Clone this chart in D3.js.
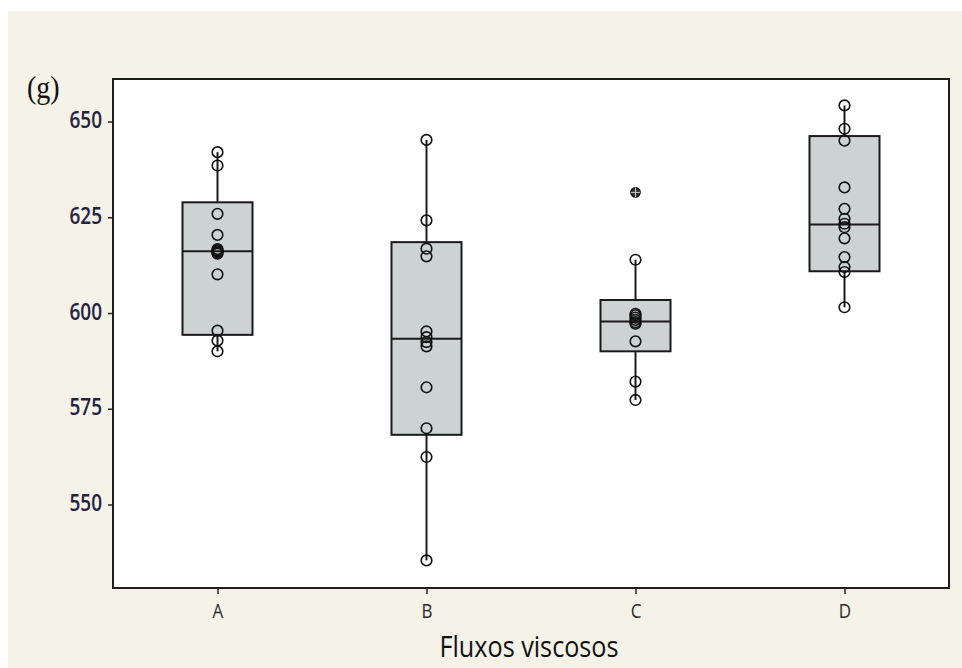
<!DOCTYPE html>
<html>
<head>
<meta charset="utf-8">
<script src="https://cdn.jsdelivr.net/npm/d3@7"></script>
<style>
  html, body { margin: 0; padding: 0; background: #ffffff; }
  svg { display: block; }
</style>
</head>
<body>
<svg id="chart" width="962" height="668"></svg>
<script>
// ---- data ----
const categories = ["A", "B", "C", "D"];
const yTicks = [550, 575, 600, 625, 650];
const q1 = [594.3, 568.2, 590.0, 610.9];
const median = [616.1, 593.3, 597.8, 623.1];
const q3 = [628.9, 618.5, 603.4, 646.2];
const whiskerLow = [590.0, 535.4, 577.3, 601.5];
const whiskerHigh = [642.0, 645.2, 613.9, 654.2];
const pointsA = [642.0, 638.5, 625.9, 620.4, 616.7, 616.4, 616.1, 615.8, 615.5, 610.1, 595.4, 592.8, 590.0];
const pointsB = [645.2, 624.2, 616.8, 614.8, 595.2, 593.7, 592.4, 591.3, 580.6, 569.9, 562.4, 535.4];
const pointsC = [613.9, 599.8, 599.4, 598.8, 598.2, 597.6, 597.2, 592.6, 582.1, 577.3];
const pointsD = [654.2, 648.1, 645.0, 632.8, 627.2, 624.6, 623.3, 622.4, 619.5, 614.6, 612.0, 610.7, 601.5];
const outliersC = [631.5];
const panelLabel = "(g)";
const xTitle = "Fluxos viscosos";

const points = [pointsA, pointsB, pointsC, pointsD];
const outliers = [[], [], outliersC, []];

// ---- layout ----
const svg = d3.select("#chart");
const W = 962, H = 668;
const frame = { left: 113, right: 949, top: 79, bottom: 588 };

svg.append("rect").attr("x", 8).attr("y", 11).attr("width", W - 8).attr("height", H - 11)
  .attr("fill", "#f5f2e8");

const x = d3.scalePoint().domain(categories).range([frame.left, frame.right]).padding(0.5);
const y = d3.scaleLinear().domain([528.2, 661.1]).range([frame.bottom, frame.top]);

svg.append("rect")
  .attr("x", frame.left).attr("y", frame.top)
  .attr("width", frame.right - frame.left).attr("height", frame.bottom - frame.top)
  .attr("fill", "#ffffff");

// axes
const yAxis = svg.append("g").attr("transform", `translate(${frame.left},0)`)
  .call(d3.axisLeft(y).tickValues(yTicks).tickSize(5).tickPadding(6).tickFormat(d3.format("d")));
yAxis.select(".domain").remove();
yAxis.selectAll(".tick line").attr("stroke", "#222").attr("stroke-width", 1.5);
yAxis.selectAll(".tick text")
  .attr("fill", "#23233f")
  .attr("dy", null)
  .attr("transform", "translate(0,6) scale(1,1.2)")
  .style("font-family", "'Open Sans', sans-serif")
  .style("font-size", "19px")
  .style("font-weight", "600");

const xAxis = svg.append("g").attr("transform", `translate(0,${frame.bottom})`)
  .call(d3.axisBottom(x).tickSize(6).tickPadding(8));
xAxis.select(".domain").remove();
xAxis.selectAll(".tick line").attr("stroke", "#222").attr("stroke-width", 1.5);
xAxis.selectAll(".tick text")
  .attr("fill", "#2a2a2a")
  .attr("dy", null)
  .attr("y", null)
  .attr("transform", "translate(0,30) scale(1,1.2)")
  .style("font-family", "'Open Sans', sans-serif")
  .style("font-size", "17px");

const boxW = 70;
const g = svg.append("g");

categories.forEach((c, i) => {
  const cx = x(c);
  // whiskers
  g.append("line").attr("x1", cx).attr("x2", cx)
    .attr("y1", y(q3[i])).attr("y2", y(whiskerHigh[i]))
    .attr("stroke", "#1a1a1a").attr("stroke-width", 2);
  g.append("line").attr("x1", cx).attr("x2", cx)
    .attr("y1", y(q1[i])).attr("y2", y(whiskerLow[i]))
    .attr("stroke", "#1a1a1a").attr("stroke-width", 2);
  // box
  g.append("rect")
    .attr("x", cx - boxW / 2).attr("y", y(q3[i]))
    .attr("width", boxW).attr("height", y(q1[i]) - y(q3[i]))
    .attr("fill", "#cdd3d3").attr("stroke", "#1a1a1a").attr("stroke-width", 2);
  // median
  g.append("line").attr("x1", cx - boxW / 2).attr("x2", cx + boxW / 2)
    .attr("y1", y(median[i])).attr("y2", y(median[i]))
    .attr("stroke", "#1a1a1a").attr("stroke-width", 2);
  // individual points
  g.selectAll(null).data(points[i]).enter().append("circle")
    .attr("cx", cx).attr("cy", d => y(d)).attr("r", 5.3)
    .attr("fill", "none").attr("stroke", "#111").attr("stroke-width", 1.6);
  // outliers (circle with cross)
  outliers[i].forEach(v => {
    const oy = y(v);
    g.append("circle").attr("cx", cx).attr("cy", oy).attr("r", 4.8)
      .attr("fill", "#333").attr("stroke", "#111").attr("stroke-width", 1.2);
    g.append("line").attr("x1", cx - 4.8).attr("x2", cx + 4.8).attr("y1", oy).attr("y2", oy)
      .attr("stroke", "#ccc").attr("stroke-width", 1);
    g.append("line").attr("x1", cx).attr("x2", cx).attr("y1", oy - 4.8).attr("y2", oy + 4.8)
      .attr("stroke", "#ccc").attr("stroke-width", 1);
  });
});

// frame
svg.append("rect")
  .attr("x", frame.left).attr("y", frame.top)
  .attr("width", frame.right - frame.left).attr("height", frame.bottom - frame.top)
  .attr("fill", "none").attr("stroke", "#1e1e1e").attr("stroke-width", 2);

// panel label
svg.append("text")
  .attr("transform", "translate(27,98) scale(1,1.1)")
  .attr("fill", "#111")
  .style("font-family", "'Liberation Serif', serif")
  .style("font-size", "28px")
  .text(panelLabel);

// x title
svg.append("text")
  .attr("transform", `translate(${(frame.left + frame.right) / 2 - 2},657) scale(1.05,1.2)`)
  .attr("text-anchor", "middle")
  .attr("fill", "#111")
  .style("font-family", "'Open Sans', sans-serif")
  .style("font-size", "24px")
  .text(xTitle);
</script>
</body>
</html>
